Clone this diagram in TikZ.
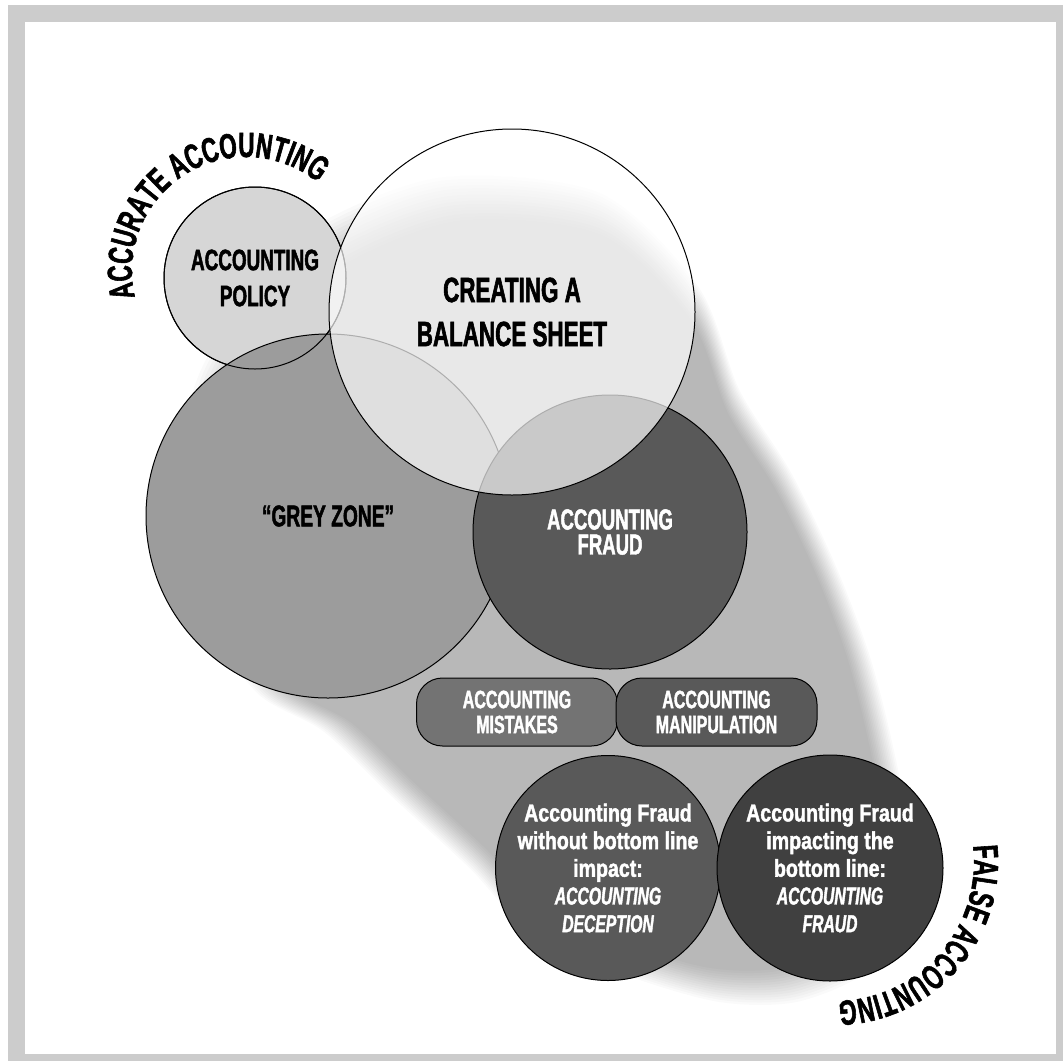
\documentclass[tikz,border=0pt]{standalone}
\usepackage{fontspec}
\setmainfont{Liberation Sans}[FakeStretch=0.64, FakeBold=1.6]
\newfontfamily\lowfont{Liberation Sans}[FakeStretch=0.8, FakeBold=1.6]
\usetikzlibrary{decorations.text}

\definecolor{framegrey}{gray}{0.80}
\definecolor{policygrey}{gray}{0.84}
\definecolor{zonegrey}{gray}{0.61}
\definecolor{fraudgrey}{gray}{0.35}
\definecolor{mistakegrey}{gray}{0.45}
\definecolor{darkgrey}{gray}{0.25}

\begin{document}
\begin{tikzpicture}[x=1pt, y=1pt,
    bubble/.style={circle, draw, line width=1pt, inner sep=0pt, align=center},
    pill/.style={rectangle, rounded corners=26pt, draw, line width=1pt, fill=fraudgrey,
      minimum width=201pt, minimum height=68pt, inner sep=0pt, align=center, text=white,
      font=\bfseries\fontsize{25}{25}\selectfont},
    arctext/.style={decorate, decoration={text along path, text align=center, text={#1}}}]

    % style of the shadow layers
    \tikzstyle{shade}=[black, opacity=.02]

    \useasboundingbox (0,0) rectangle (1064,-1063);
    \fill[white] (0,0) rectangle (1064,-1063);
    \fill[framegrey] (8,-5) rectangle (1063,-1061);
    \fill[white] (25,-22) rectangle (1056,-1054);

    % soft shadow behind the bubbles
    \foreach \f in {1.04,1.033,...,0.94}
      \fill[shade, scale around={\f:(620,-640)}] plot[smooth cycle] coordinates {
        (330,-240) (450,-195) (600,-210) (695,-300) (735,-400) (785,-480)
        (828,-570) (860,-655) (882,-740) (895,-815) (890,-900) (858,-958)
        (790,-988) (715,-988) (625,-962) (535,-922) (476,-860) (400,-790)
        (335,-728) (270,-690) (220,-610) (190,-500) (215,-385) (270,-300)};

    \node[bubble, fill=policygrey, minimum size=182pt,
      font=\bfseries\fontsize{29.5}{36}\selectfont] (policy) at (255,-278) {ACCOUNTING\\POLICY};
    \node[bubble, fill=zonegrey, minimum size=364pt,
      font=\bfseries\fontsize{30}{32}\selectfont] (greyzone) at (328,-516) {“GREY ZONE”};
    \draw[line width=1pt] (policy.center) circle[radius=91];
    \node[bubble, fill=fraudgrey, text=white, minimum size=274pt,
      font=\bfseries\fontsize{29}{25}\selectfont] (fraud) at (610,-532) {ACCOUNTING\\FRAUD};
    \node[bubble, fill=white, fill opacity=.68, text opacity=1, minimum size=366pt,
      font=\bfseries\fontsize{35}{44}\selectfont] (balance) at (512,-312) {CREATING A\\BALANCE SHEET};

    \node[pill, fill=mistakegrey] (mistakes) at (517,-712) {ACCOUNTING\\MISTAKES};
    \node[pill] (manipulation) at (716.5,-712) {ACCOUNTING\\MANIPULATION};

    \node[bubble, fill=fraudgrey, text=white, minimum size=225pt,
      font=\bfseries\fontsize{24.5}{27.7}\selectfont] (deception) at (608,-868)
      {\lowfont Accounting Fraud\\\lowfont without bottom line\\\lowfont impact:\\
       \itshape ACCOUNTING\\\itshape DECEPTION};
    \node[bubble, fill=darkgrey, text=white, minimum size=226pt,
      font=\bfseries\fontsize{24.5}{27.7}\selectfont] (bottomline) at (830,-868)
      {\lowfont Accounting Fraud\\\lowfont impacting the\\\lowfont bottom line:\\
       \itshape ACCOUNTING\\\itshape FRAUD};

    % curved captions
    \path[arctext={|\bfseries\fontsize{35}{35}\selectfont|ACCURATE ACCOUNTING}]
      (246,-271) ++(200:114) arc[start angle=200, end angle=44, radius=114];
    \path[arctext={|\bfseries\fontsize{35}{35}\selectfont|FALSE ACCOUNTING}]
      (835,-862) ++(12:139) arc[start angle=12, end angle=-94, radius=139];

\end{tikzpicture}
\end{document}
